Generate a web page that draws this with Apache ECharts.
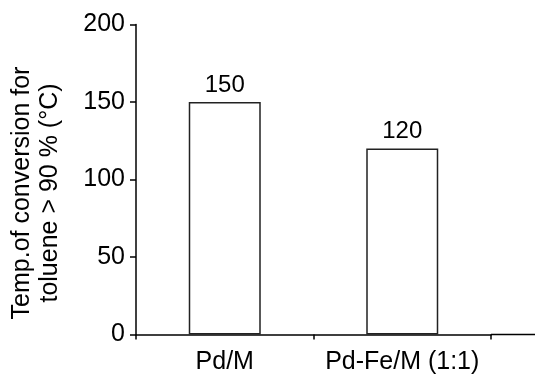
<!DOCTYPE html>
<html><head><meta charset="utf-8">
<script src="https://cdn.jsdelivr.net/npm/echarts@6/dist/echarts.min.js"></script>
<style>html,body{margin:0;padding:0;background:#fff}#c{width:535px;height:375px}</style>
</head><body><div id="c"></div>
<script>
var categories = ['Pd/M', 'Pd-Fe/M (1:1)'];
var values = [150, 120];
var yTicks = [0, 50, 100, 150, 200];
var yName = 'Temp.of conversion for\ntoluene > 90 % (\u00B0C)';

var chart = echarts.init(document.getElementById('c'), null, {renderer: 'canvas'});
var font = 'Liberation Sans, Arial, sans-serif';
chart.setOption({
  animation: false,
  backgroundColor: '#fff',
  grid: {left: 136, right: 44, top: 24.5, bottom: 40.5, containLabel: false, outerBoundsMode: 'none'},
  xAxis: {
    type: 'category',
    data: categories,
    axisLine: {lineStyle: {color: '#000', width: 1.5}},
    axisTick: {show: true, length: 5, lineStyle: {color: '#000', width: 1.5}},
    axisLabel: {color: '#000', fontSize: 25, fontFamily: font, margin: 15, interval: 0, hideOverlap: false}
  },
  yAxis: {
    type: 'value',
    min: yTicks[0], max: yTicks[yTicks.length - 1], interval: 50,
    splitLine: {show: false},
    axisLine: {show: true, lineStyle: {color: '#000', width: 1.5}},
    axisTick: {show: true, length: 6, lineStyle: {color: '#000', width: 1.5}},
    axisLabel: {color: '#000', fontSize: 25, fontFamily: font, margin: 11},
    name: yName,
    nameLocation: 'middle',
    nameGap: 72,
    nameRotate: 90,
    nameTextStyle: {color: '#000', fontSize: 25, fontFamily: font, lineHeight: 28, padding: [0, 27, 0, 0]}
  },
  series: [{
    type: 'bar',
    data: values,
    barWidth: 72,
    itemStyle: {color: '#fff', borderColor: '#222', borderWidth: 1.5},
    label: {show: true, position: 'top', distance: 5, color: '#000', fontSize: 24, fontFamily: font}
  }],
  graphic: [{
    type: 'line',
    shape: {x1: 491, y1: 334.5, x2: 535, y2: 334.5},
    style: {stroke: '#000', lineWidth: 1.5}
  }]
});
</script></body></html>
